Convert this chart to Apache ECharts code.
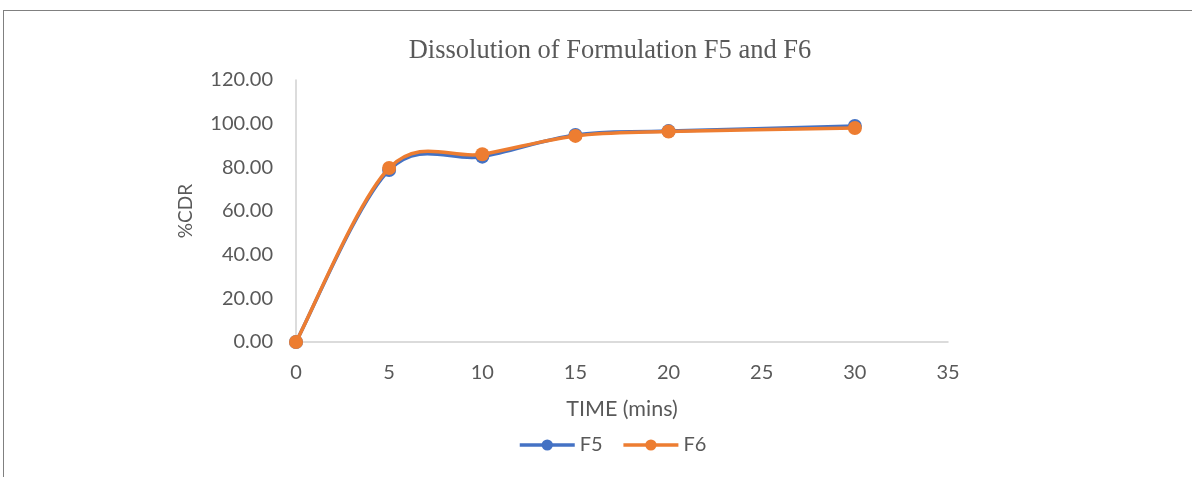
<!DOCTYPE html>
<html><head><meta charset="utf-8">
<script src="https://cdn.jsdelivr.net/npm/echarts@6/dist/echarts.min.js"></script>
<style>html,body{margin:0;padding:0;background:#fff;}#c{width:1192px;height:477px;position:relative;}
#bt{position:absolute;left:3px;top:10px;right:0;height:0;border-top:1px solid #808080;}
#bl{position:absolute;left:3px;top:10px;bottom:0;width:0;border-left:1px solid #808080;}</style>
</head><body><div id="c"></div><div id="bt"></div><div id="bl"></div>
<script>
const times = [0, 5, 10, 15, 20, 30];
const f5 = [0, 78.8, 84.9, 94.8, 96.6, 98.9];
const f6 = [0, 79.7, 86.0, 94.4, 96.4, 98.0];
const seriesNames = ['F5', 'F6'];
const title = 'Dissolution of Formulation F5 and F6';
const xTitle = 'TIME (mins)';
const yTitle = '%CDR';

const colors = ['#4472C4', '#ED7D31'];
const chart = echarts.init(document.getElementById('c'), null, {renderer: 'canvas'});
const txt = '#595959';
const font = 'Lato';
const LW = 3.5;

// Excel-like smoothed line: Catmull-Rom style cubic Bezier through the data points (pixel space)
function curveSeries(vals, color, z) {
  return {
    type: 'custom', z: z, silent: true, name: '_c' + z,
    data: [[times[0], vals[0]]],
    renderItem: function (params, api) {
      const p = times.map((t, i) => api.coord([t, vals[i]]));
      const children = [];
      const k = 1 / 6;
      for (let i = 0; i < p.length - 1; i++) {
        const p0 = p[Math.max(i - 1, 0)], p1 = p[i], p2 = p[i + 1], p3 = p[Math.min(i + 2, p.length - 1)];
        children.push({
          type: 'bezierCurve',
          shape: {
            x1: p1[0], y1: p1[1], x2: p2[0], y2: p2[1],
            cpx1: p1[0] + (p2[0] - p0[0]) * k, cpy1: p1[1] + (p2[1] - p0[1]) * k,
            cpx2: p2[0] - (p3[0] - p1[0]) * k, cpy2: p2[1] - (p3[1] - p1[1]) * k
          },
          style: {stroke: color, lineWidth: LW, fill: null, lineCap: 'round'}
        });
      }
      return {type: 'group', children: children};
    }
  };
}
function pts(name, vals, color, z) {
  return {
    name: name, type: 'line', z: z,
    data: times.map((t, i) => [t, vals[i]]),
    symbol: 'circle', symbolSize: 14,
    lineStyle: {width: LW, color: color, opacity: 0},
    itemStyle: {color: color}
  };
}
chart.setOption({
  animation: false,
  title: {text: title, left: 605, top: 33, textAlign: 'center',
    textStyle: {fontFamily: 'Liberation Serif', fontWeight: 'normal', fontSize: 26.5, color: txt}},
  grid: {left: 296, right: 244, top: 80, bottom: 135, containLabel: false},
  legend: {top: 430, left: 513, itemWidth: 55, itemHeight: 14, itemGap: 19,
    textStyle: {fontFamily: font, fontSize: 20, color: txt},
    data: seriesNames.map((n, i) => ({name: n,
      lineStyle: {width: LW, color: colors[i], opacity: 1},
      itemStyle: {color: colors[i]}}))},
  xAxis: {type: 'value', min: 0, max: 35, interval: 5,
    name: xTitle, nameLocation: 'middle', nameGap: 56,
    nameTextStyle: {fontFamily: font, fontSize: 21.5, color: txt},
    axisLine: {lineStyle: {color: '#d0d0d0', width: 1.5}},
    axisTick: {show: false}, splitLine: {show: false},
    axisLabel: {fontFamily: font, fontSize: 20, color: txt, margin: 21}},
  yAxis: {type: 'value', min: 0, max: 120, interval: 20,
    name: yTitle, nameLocation: 'middle', nameGap: 101, nameRotate: 90,
    nameTextStyle: {fontFamily: font, fontSize: 19, color: txt},
    axisLine: {show: true, lineStyle: {color: '#d0d0d0', width: 1.5}},
    axisTick: {show: false}, splitLine: {show: false},
    axisLabel: {fontFamily: font, fontSize: 20, color: txt, margin: 23,
      formatter: v => v.toFixed(2)}},
  series: [
    curveSeries(f5, colors[0], 2), pts(seriesNames[0], f5, colors[0], 3),
    curveSeries(f6, colors[1], 4), pts(seriesNames[1], f6, colors[1], 5)
  ]
});
</script></body></html>
